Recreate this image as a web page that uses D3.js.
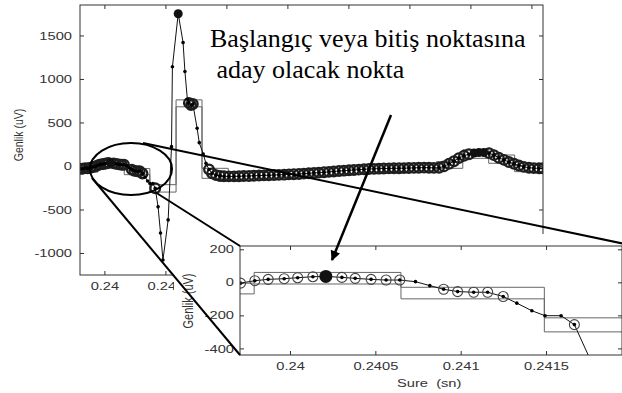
<!DOCTYPE html>
<html>
<head>
<meta charset="utf-8">
<script src="https://cdn.jsdelivr.net/npm/d3@7"></script>
<style>
body { margin: 0; background: #fff; }
</style>
</head>
<body>
<script>
// signal samples (time in s, amplitude in uV) and marker kind: c = circled, d = dot, f = filled
const times = [
  0.23920, 0.23928, 0.23937, 0.23945, 0.23954, 0.23962, 0.23971,
  0.239794, 0.239872, 0.239966, 0.240045, 0.240134, 0.240210, 0.240304, 0.240382, 0.240475,
  0.240563, 0.240643, 0.240735, 0.240819, 0.240900, 0.240982, 0.241076, 0.241158, 0.241249,
  0.241329, 0.241417, 0.241494, 0.241588, 0.241666,
  0.24176, 0.24184, 0.24192, 0.24209, 0.24220, 0.24223, 0.24242, 0.24258, 0.24264, 0.24272,
  0.24277, 0.24284, 0.24290, 0.24304, 0.24311, 0.24324, 0.24333, 0.24343, 0.24353, 0.24366, 0.24379,
  0.24392, 0.24408, 0.24425, 0.24441, 0.24457, 0.24474, 0.24490, 0.24507, 0.24523, 0.24539,
  0.24556, 0.24572, 0.24589, 0.24605, 0.24621, 0.24638, 0.24654, 0.24670, 0.24687, 0.24703,
  0.24720, 0.24736, 0.24752, 0.24769, 0.24785, 0.24802, 0.24818, 0.24834, 0.24851, 0.24867,
  0.24884, 0.24900, 0.24916, 0.24933, 0.24949, 0.24966, 0.24982, 0.24998, 0.25015, 0.25031,
  0.25048, 0.25064, 0.25080, 0.25097, 0.25113, 0.25130, 0.25146, 0.25162, 0.25179, 0.25195,
  0.25212, 0.25228, 0.25244, 0.25261, 0.25277, 0.25293, 0.25310, 0.25326, 0.25343, 0.25359,
  0.25375, 0.25392, 0.25408, 0.25425, 0.25438
];
const amps = [
  -30, -32, -25, -28, -20, -12, -5,
  10, 18, 22, 28, 34, 36, 30, 24, 18,
  14, 14, 4, -20, -42, -56, -60, -60, -86,
  -126, -172, -202, -202, -256,
  -470, -770, -1080, -620, 222, 1140, 1750, 1418, 1085, 767,
  725, 700, 713, 433, 268, 138, 30, -40, -85, -105, -115,
  -118, -120, -120, -118, -116, -115, -112, -110, -108, -106,
  -104, -102, -100, -97, -95, -92, -88, -84, -80, -76,
  -72, -68, -63, -58, -54, -50, -46, -42, -38, -35,
  -33, -31, -29, -28, -27, -26, -25, -24, -22, -20,
  -19, -20, -22, -20, -5, 25, 55, 90, 118, 135,
  148, 155, 155, 148, 125, 95, 70, 45, 25, 5,
  -10, -20, -25, -27, -27
];
const marks = [
  "c", "c", "c", "c", "c", "c", "c",
  "c", "c", "c", "c", "c", "f", "c", "c", "c",
  "c", "c", "d", "d", "c", "c", "c", "c", "c",
  "d", "d", "d", "d", "c",
  "d", "d", "d", "d", "d", "d", "f", "d", "d", "d",
  "c", "c", "c", "d", "d", "d", "d", "c", "c", "c", "c",
  "c", "c", "c", "c", "c", "c", "c", "c", "c", "c",
  "c", "c", "c", "c", "c", "c", "c", "c", "c", "c",
  "c", "c", "c", "c", "c", "c", "c", "c", "c", "c",
  "c", "c", "c", "c", "c", "c", "c", "c", "c", "c",
  "c", "c", "c", "c", "c", "c", "c", "c", "c", "c",
  "f", "f", "f", "c", "c", "c", "c", "c", "c", "c",
  "c", "c", "c", "c", "c"
];

// analysis windows: edges and upper / lower levels
const winEdges = [0.23893, 0.23979, 0.24065, 0.24149, 0.24235, 0.24320, 0.24406, 0.24491, 0.24577, 0.24662,
  0.24747, 0.24833, 0.24918, 0.25004, 0.25089, 0.25175, 0.25260, 0.25345, 0.25431, 0.25516];
const winUpper = [-5, 60, -30, -215, 760, -27, -85, -75, -65, -45, -25, -10, 0, 5, 50, 186, 126, 5, -5];
const winLower = [-70, -10, -100, -300, 680, -142, -150, -140, -125, -105, -90, -70, -60, -55, -27, 88, 31, -65, -60];

const mainXTicks = [0.24, 0.242, 0.244, 0.246, 0.248, 0.25, 0.252, 0.254];
const mainYTicks = [-1000, -500, 0, 500, 1000, 1500];
const insetXTicks = [0.24, 0.2405, 0.241, 0.2415];
const insetYTicks = [-400, -200, 0, 200];
const noteLines = ["Başlangıç veya bitiş noktasına", " aday olacak nokta"];

const W = 622, H = 393, SX = 1.3;
const SANS = "'Liberation Sans', Arial, sans-serif";
const svg = d3.select("body").append("svg").attr("width", W).attr("height", H)
  .style("font-family", SANS);

const pts = times.map((t, i) => ({ t: t, v: amps[i], k: marks[i] }));
const stairUp = winEdges.map((t, i) => ({ t: t, v: winUpper[Math.min(i, winUpper.length - 1)] }));
const stairLo = winEdges.map((t, i) => ({ t: t, v: winLower[Math.min(i, winLower.length - 1)] }));

function stretch(sel) {
  sel.each(function () {
    const t = d3.select(this);
    const x = +t.attr("x") || 0;
    t.attr("x", x / SX).attr("transform", `scale(${SX},1)`);
  });
}

function panel(id, x, y, xt, yt, opt) {
  const [x0, x1] = x.range(), [y1, y0] = y.range();
  const g = svg.append("g");
  g.append("clipPath").attr("id", id).append("rect")
    .attr("x", x0).attr("y", y0).attr("width", x1 - x0).attr("height", y1 - y0);
  const body = g.append("g").attr("clip-path", `url(#${id})`);

  const stair = d3.line().x(d => x(d.t)).y(d => y(d.v)).curve(d3.curveStepAfter);
  [stairUp, stairLo].forEach(s => body.append("path").attr("d", stair(s))
    .attr("fill", "none").attr("stroke", "#666").attr("stroke-width", 1));

  body.append("path").attr("d", d3.line().x(d => x(d.t)).y(d => y(d.v))(pts))
    .attr("fill", "none").attr("stroke", "#111").attr("stroke-width", 1);

  body.selectAll(".ring").data(pts.filter(d => d.k === "c")).join("circle")
    .attr("cx", d => x(d.t)).attr("cy", d => y(d.v)).attr("r", opt.r)
    .attr("fill", "none").attr("stroke", opt.rc).attr("stroke-width", opt.rw);
  body.selectAll(".dot").data(pts.filter(d => d.k !== "f")).join("circle")
    .attr("cx", d => x(d.t)).attr("cy", d => y(d.v)).attr("r", 1.8).attr("fill", "#000");
  body.selectAll(".big").data(pts.filter(d => d.k === "f")).join("circle")
    .attr("cx", d => x(d.t)).attr("cy", d => y(d.v)).attr("r", opt.fr).attr("fill", "#111");

  // frame and inward ticks
  g.append("rect").attr("x", x0).attr("y", y0).attr("width", x1 - x0).attr("height", y1 - y0)
    .attr("fill", "none").attr("stroke", "#333").attr("stroke-width", 1);
  const ax = (a, tr, labels) => {
    const s = g.append("g").attr("transform", tr).call(a)
      .attr("font-size", 11.3).attr("font-family", SANS);
    s.select(".domain").remove();
    s.selectAll("line").attr("stroke", "#333");
    s.selectAll("text").attr("fill", "#333");
    if (labels) stretch(s.selectAll("text"));
  };
  ax(d3.axisBottom(x).tickValues(xt).tickSize(-4).tickPadding(opt.xp).tickFormat(opt.xf), `translate(0,${y1})`, true);
  ax(d3.axisTop(x).tickValues(xt).tickSize(-4).tickFormat(""), `translate(0,${y0})`, false);
  ax(d3.axisLeft(y).tickValues(yt).tickSize(-4).tickPadding(opt.yp).tickFormat(d => String(d)), `translate(${x0},0)`, true);
  ax(d3.axisRight(y).tickValues(yt).tickSize(-4).tickFormat(""), `translate(${x1},0)`, false);
  return g;
}

// main chart (labels right of 0.242 sit under the inset, so they are left blank)
const xMain = d3.scaleLinear().domain([0.2392, 0.25438]).range([80, 543]);
const yMain = d3.scaleLinear().domain([-1253, 1850]).range([275, 5]);
panel("clipMain", xMain, yMain, mainXTicks, mainYTicks,
  { r: 4.8, rw: 2.3, rc: "#1e1e1e", fr: 4.5, xp: 7, yp: 8, xf: d => (d < 0.2425 ? String(d) : "") });

svg.append("text").attr("transform", `translate(19,135) scale(${SX},1) rotate(-90)`)
  .attr("text-anchor", "middle").attr("dominant-baseline", "central")
  .attr("font-size", 10.5).attr("fill", "#333").text("Genlik (uV)");

// highlighted region
svg.append("ellipse").attr("cx", 131).attr("cy", 169).attr("rx", 41).attr("ry", 26)
  .attr("fill", "none").attr("stroke", "#000").attr("stroke-width", 2);

// inset
svg.append("rect").attr("x", 174).attr("y", 234).attr("width", 448).attr("height", 159).attr("fill", "#fff");
const xIn = d3.scaleLinear().domain([0.239707, 0.241945]).range([240, 622]);
const yIn = d3.scaleLinear().domain([-440, 220]).range([355, 246]);
panel("clipInset", xIn, yIn, insetXTicks, insetYTicks,
  { r: 5, rw: 1.1, rc: "#444", fr: 6.5, xp: 7, yp: 6, xf: d => String(d) });

svg.append("text").attr("transform", `translate(188,301) scale(${SX},1) rotate(-90)`)
  .attr("text-anchor", "middle").attr("dominant-baseline", "central")
  .attr("font-size", 11).attr("fill", "#333").text("Genlik (uV)");
svg.append("text").attr("x", 397 / SX).attr("y", 387).attr("transform", `scale(${SX},1)`)
  .style("white-space", "pre").attr("font-size", 11.3).attr("fill", "#333").text("Sure  (sn)");

// connector lines
const links = [[143, 143, 625, 244], [92, 178, 240, 355], [155, 192, 240, 246]];
svg.selectAll(".link").data(links).join("line")
  .attr("x1", d => d[0]).attr("y1", d => d[1]).attr("x2", d => d[2]).attr("y2", d => d[3])
  .attr("stroke", "#000").attr("stroke-width", 2);

// note and arrow
svg.append("defs").append("marker").attr("id", "head")
  .attr("viewBox", "0 0 10 10").attr("refX", 9).attr("refY", 5)
  .attr("markerUnits", "userSpaceOnUse").attr("markerWidth", 13).attr("markerHeight", 10)
  .attr("orient", "auto")
  .append("path").attr("d", "M0,0L10,5L0,10Z").attr("fill", "#000");
svg.append("line").attr("x1", 391).attr("y1", 115).attr("x2", 332).attr("y2", 260)
  .attr("stroke", "#000").attr("stroke-width", 2.5).attr("marker-end", "url(#head)");

svg.selectAll(".note").data(noteLines).join("text")
  .attr("x", 210).attr("y", (d, i) => 47 + i * 31)
  .style("white-space", "pre")
  .style("font-family", "'Liberation Serif', 'Times New Roman', serif")
  .attr("font-size", 26).attr("fill", "#000").text(d => d);
</script>
</body>
</html>
